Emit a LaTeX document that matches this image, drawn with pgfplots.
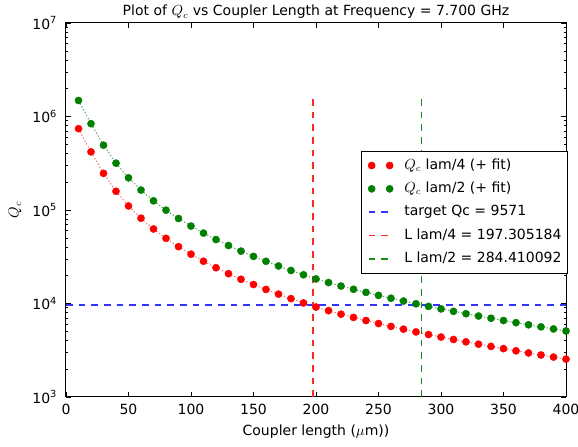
\documentclass[border=0pt]{standalone}
\usepackage{pgfplots}
\usepackage{pgfplotstable}
\pgfplotsset{compat=1.18}
\usepackage{fontspec}
\setmainfont{DejaVu Sans}

\definecolor{mgreen}{rgb}{0,0.5,0}
\definecolor{pblue}{rgb}{0.2,0.2,1}
\definecolor{pred}{rgb}{1,0.15,0.15}
\definecolor{pgreen}{rgb}{0.1,0.55,0.1}
\definecolor{fitred}{rgb}{1,0.45,0.45}
\definecolor{fitgreen}{rgb}{0.35,0.65,0.35}

\pgfplotsset{
  legdots/.style={legend image code/.code={\draw[##1, only marks] plot coordinates {(0pt,0pt) (13.5pt,0pt)};}},
  legdash/.style={legend image code/.code={\draw[##1] (-2.25pt,0pt) -- (15.75pt,0pt);}},
}

\pgfplotstableread{
x   red     green
10  741300  1482600
20  418800  837600
30  246600  493200
40  158500  317000
50  110400  220800
60  81660   163320
70  62660   125320
80  49770   99540
90  40550   81100
100 33650   67300
110 28310   56620
120 24150   48300
130 20840   41680
140 18160   36320
150 15960   31920
160 14130   28260
170 12590   25180
180 11270   22540
190 10140   20280
200 9162    18324
210 8375    16750
220 7691    15382
230 7096    14192
240 6577    13154
250 6109    12218
260 5689    11378
270 5309    10618
280 4966    9932
290 4656    9312
300 4375    8750
310 4121    8242
320 3890    7780
330 3673    7346
340 3475    6950
350 3289    6578
360 3119    6238
370 2958    5916
380 2812    5624
390 2673    5346
400 2541    5082
}\qcdata

\begin{document}
\fontsize{10.5}{12.5}\selectfont
\begin{tikzpicture}
\path[use as bounding box, fill=white] (-49.5pt,-36.75pt) rectangle (384pt,297.75pt);
\begin{axis}[
  scale only axis, width=375pt, height=280.5pt,
  xmin=0, xmax=400, ymode=log, ymin=1e3, ymax=1e7,
  xtick={0,50,100,150,200,250,300,350,400},
  ytick={1e3,1e4,1e5,1e6,1e7},
  yticklabels={10\textsuperscript{3},10\textsuperscript{4},10\textsuperscript{5},10\textsuperscript{6},10\textsuperscript{7}},
  minor ytick={2e3,3e3,4e3,5e3,6e3,7e3,8e3,9e3,2e4,3e4,4e4,5e4,6e4,7e4,8e4,9e4,2e5,3e5,4e5,5e5,6e5,7e5,8e5,9e5,2e6,3e6,4e6,5e6,6e6,7e6,8e6,9e6},
  /pgf/number format/assume math mode=true,
  tick align=inside, xtick pos=both, ytick pos=both,
  major tick length=3.5pt, minor tick length=1.8pt,
  tick style={black, line width=0.5pt},
  axis line style={line width=0.75pt},
  yticklabel style={xshift=-3pt},
  xticklabel style={yshift=-1.5pt},
  every axis title shift=0pt,
  title={Plot of $Q_c$ vs Coupler Length at Frequency = 7.700 GHz},
  title style={at={(axis description cs:0.5,1.0294)}, anchor=center, inner sep=0pt},
  xlabel={Coupler length ($\mu$m))},
  xlabel style={at={(axis description cs:0.5,-0.0936)}, anchor=center, inner sep=0pt},
  ylabel={$Q_c$},
  ylabel style={at={(axis description cs:-0.102,0.5)}, anchor=center, inner sep=0pt},
  legend style={at={(axis description cs:1.004,0.6586)}, anchor=north east,
    draw=black, line width=0.75pt, fill=white, inner xsep=4.5pt, inner ysep=5.5pt,
    row sep=7pt, column sep=8pt,
    nodes={inner sep=0pt, text height=8pt, text depth=2.5pt},
    cells={anchor=west}, font=\fontsize{10.5}{12.5}\selectfont},
]
\addplot[only marks, mark=*, color=red, mark size=2.7pt, mark options={line width=0.3pt}, legdots]
  table[x=x, y=red] {\qcdata};
\addlegendentry{$Q_c$ lam/4 (+ fit)}
\addplot[forget plot, fitred, line width=0.75pt, dash pattern=on 1pt off 1.5pt]
  table[x=x, y=red] {\qcdata};
\addplot[only marks, mark=*, color=mgreen, mark size=2.7pt, mark options={line width=0.3pt}, legdots]
  table[x=x, y=green] {\qcdata};
\addlegendentry{$Q_c$ lam/2 (+ fit)}
\addplot[forget plot, fitgreen, line width=0.75pt, dash pattern=on 1pt off 1.5pt]
  table[x=x, y=green] {\qcdata};
\addplot[color=pblue, line width=1.4pt, dash pattern=on 5pt off 4.5pt, legdash]
  coordinates {(0,9571) (400,9571)};
\addlegendentry{target Qc = 9571}
\addplot[color=pred, line width=1.4pt, dash pattern=on 5pt off 4.5pt, legdash]
  coordinates {(197.305184,1000) (197.305184,1660000)};
\addlegendentry{L lam/4 = 197.305184}
\addplot[color=pgreen, line width=1.4pt, dash pattern=on 5pt off 4.5pt, legdash]
  coordinates {(284.410092,1000) (284.410092,1660000)};
\addlegendentry{L lam/2 = 284.410092}
\end{axis}
\end{tikzpicture}
\end{document}
